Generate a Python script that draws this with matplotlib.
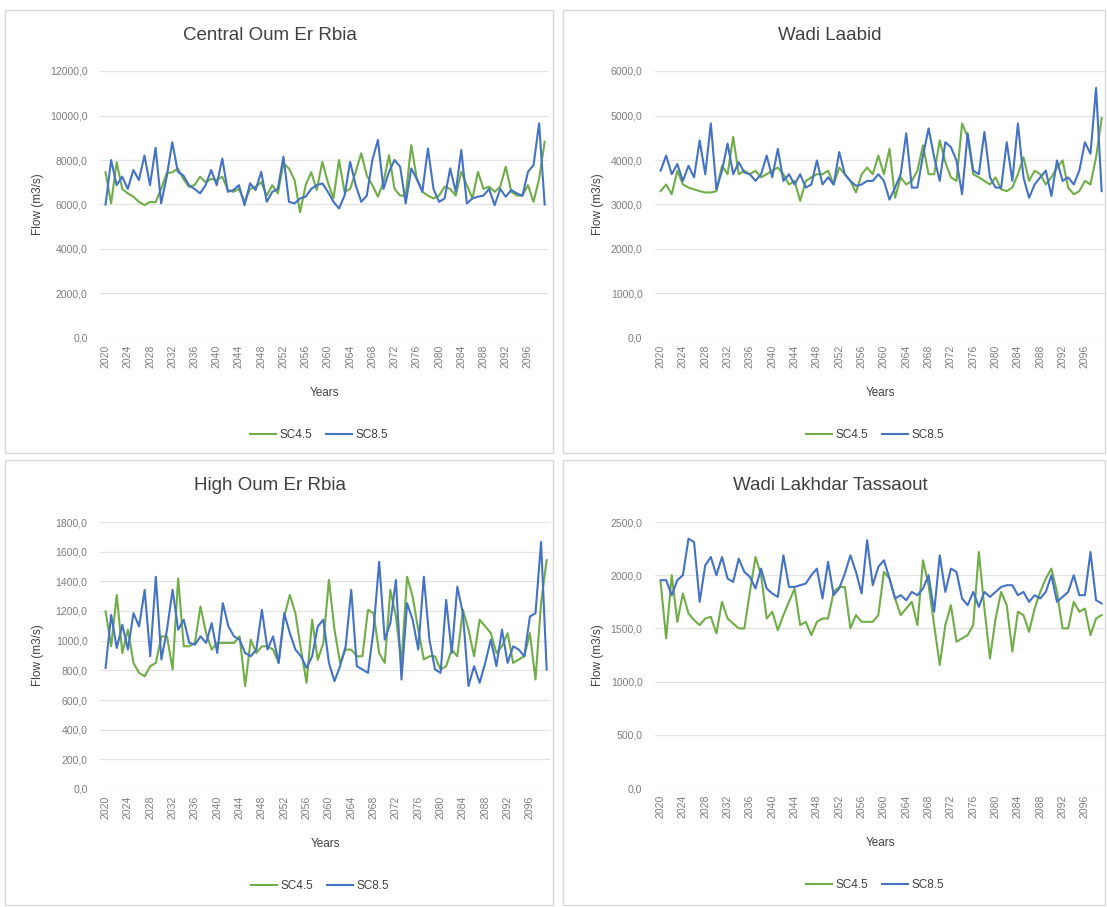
import numpy as np
import matplotlib as mpl
mpl.use('Agg')
import matplotlib.pyplot as plt
from matplotlib.patches import Rectangle
from matplotlib.ticker import FuncFormatter

plt.rcParams['font.family'] = ['Liberation Sans', 'DejaVu Sans']

years = np.arange(2020, 2100)
year_ticks = list(range(2020, 2097, 4))

central_sc45 = [7450, 6050, 7900, 6700, 6500, 6350, 6120, 5970, 6120, 6100,
                6700, 7400, 7450, 7620, 7150, 6800, 6870, 7250, 7000, 7150,
                7100, 7250, 6650, 6570, 6700, 6120, 6700, 6800, 7000, 6400,
                6870, 6500, 7850, 7620, 7100, 5650, 6870, 7450, 6650, 7920,
                7000, 6270, 8000, 6570, 6700, 7470, 8300, 7300, 6870, 6350,
                7000, 8220, 6700, 6400, 6400, 8670, 7150, 6570, 6400, 6270,
                6400, 6800, 6700, 6400, 7470, 6870, 6270, 7470, 6700, 6800,
                6570, 6800, 7700, 6570, 6400, 6400, 6870, 6120, 7150, 8820]
central_sc85 = [6000, 8000, 6870, 7250, 6700, 7550, 7100, 8200, 6870, 8550,
                6050, 7250, 8800, 7470, 7300, 6870, 6700, 6500, 6870, 7550,
                6870, 8070, 6570, 6650, 6870, 5970, 6950, 6650, 7470, 6120,
                6570, 6700, 8150, 6120, 6050, 6270, 6350, 6700, 6870, 6950,
                6570, 6120, 5820, 6400, 7920, 6870, 6120, 6400, 8000, 8900,
                6700, 7470, 8000, 7700, 6050, 7620, 7150, 6570, 8520, 6700,
                6120, 6270, 7620, 6570, 8450, 6050, 6270, 6350, 6400, 6700,
                5970, 6700, 6350, 6650, 6500, 6400, 7470, 7770, 9650, 6000]

laabid_sc45 = [3300, 3450, 3230, 3760, 3450, 3380, 3340, 3300, 3270, 3270,
               3300, 3870, 3680, 4520, 3680, 3760, 3680, 3760, 3610, 3680,
               3760, 3830, 3680, 3450, 3530, 3080, 3530, 3610, 3680, 3680,
               3760, 3450, 3830, 3680, 3530, 3270, 3680, 3830, 3680, 4100,
               3680, 4250, 3150, 3610, 3450, 3530, 3760, 4330, 3680, 3680,
               4440, 3950, 3610, 3530, 4820, 4520, 3680, 3610, 3530, 3450,
               3610, 3340, 3300, 3380, 3680, 4060, 3530, 3760, 3680, 3450,
               3610, 3830, 3990, 3380, 3230, 3300, 3530, 3450, 4060, 4940]
laabid_sc85 = [3760, 4100, 3680, 3910, 3530, 3870, 3610, 4440, 3680, 4820,
               3340, 3760, 4370, 3680, 3950, 3720, 3680, 3530, 3680, 4100,
               3610, 4250, 3530, 3680, 3450, 3680, 3380, 3450, 3990, 3450,
               3610, 3450, 4180, 3680, 3530, 3420, 3450, 3530, 3530, 3680,
               3530, 3110, 3380, 3680, 4600, 3380, 3380, 4100, 4710, 4060,
               3530, 4400, 4290, 3990, 3230, 4600, 3760, 3680, 4630, 3610,
               3380, 3380, 4400, 3530, 4820, 3610, 3150, 3450, 3610, 3760,
               3190, 3990, 3530, 3610, 3450, 3760, 4400, 4140, 5620, 3300]

high_sc45 = [1197, 962, 1308, 917, 1074, 850, 783, 760, 828, 850,
             1029, 1029, 806, 1420, 962, 962, 985, 1230, 1051, 940,
             985, 985, 985, 985, 1029, 694, 1007, 917, 962, 962,
             940, 850, 1163, 1308, 1185, 940, 716, 1141, 870, 985,
             1409, 1074, 850, 940, 940, 895, 895, 1208, 1185, 917,
             850, 1342, 1163, 850, 1431, 1297, 1074, 873, 895, 895,
             806, 828, 940, 895, 1208, 1074, 895, 1141, 1096, 1051,
             917, 962, 1051, 850, 873, 895, 1051, 738, 1253, 1543]
high_sc85 = [817, 1174, 951, 1107, 940, 1185, 1096, 1342, 895, 1431,
             873, 1074, 1342, 1074, 1141, 985, 973, 1029, 985, 1118,
             917, 1253, 1096, 1029, 1007, 917, 895, 940, 1208, 940,
             1029, 850, 1185, 1051, 940, 895, 817, 895, 1096, 1141,
             850, 727, 828, 962, 1342, 828, 806, 783, 1074, 1532,
             1007, 1118, 1409, 738, 1253, 1141, 940, 1431, 1007, 806,
             783, 1275, 917, 1364, 1185, 694, 828, 716, 850, 1007,
             828, 1074, 850, 962, 940, 895, 1163, 1185, 1666, 806]

tassaout_sc45 = [1937, 1406, 2000, 1562, 1828, 1640, 1578, 1531, 1593, 1609,
                 1453, 1750, 1593, 1546, 1500, 1500, 1843, 2171, 2000, 1593,
                 1656, 1484, 1625, 1750, 1875, 1531, 1562, 1437, 1562, 1593,
                 1593, 1843, 1890, 1890, 1500, 1625, 1562, 1562, 1562, 1625,
                 2031, 1968, 1781, 1625, 1687, 1750, 1531, 2140, 1906, 1531,
                 1156, 1531, 1718, 1375, 1406, 1437, 1531, 2218, 1687, 1218,
                 1593, 1843, 1718, 1281, 1656, 1625, 1468, 1687, 1843, 1968,
                 2062, 1843, 1500, 1500, 1750, 1656, 1687, 1437, 1593, 1625]
tassaout_sc85 = [1953, 1953, 1812, 1953, 2000, 2343, 2312, 1750, 2093, 2171,
                 2000, 2171, 1968, 1937, 2156, 2031, 1984, 1875, 2062, 1875,
                 1828, 1796, 2187, 1890, 1890, 1906, 1921, 2000, 2062, 1781,
                 2125, 1812, 1875, 2015, 2187, 2031, 1828, 2328, 1906, 2078,
                 2140, 1968, 1781, 1812, 1765, 1843, 1812, 1875, 2000, 1656,
                 2187, 1843, 2062, 2031, 1781, 1718, 1843, 1703, 1843, 1796,
                 1843, 1890, 1906, 1906, 1812, 1843, 1750, 1812, 1781, 1843,
                 2000, 1750, 1796, 1843, 2000, 1812, 1812, 2218, 1765, 1734]

GREEN = '#70ad47'
BLUE = '#4472c4'
W, H = 1107, 907

fig = plt.figure(figsize=(W / 100, H / 100), dpi=100)

def fx(px):
    return px / W

def fy(py):
    return 1 - py / H

def comma(v, pos):
    return '{:.1f}'.format(v).replace('.', ',')

# panel frames
for x0, y0, x1, y1 in [(5, 10, 553, 453), (563, 10, 1105, 453),
                       (5, 460, 553, 905), (563, 460, 1105, 905)]:
    fig.add_artist(Rectangle((fx(x0), fy(y1)), fx(x1) - fx(x0), fy(y0) - fy(y1),
                             transform=fig.transFigure, fill=False,
                             edgecolor='#d9d9d9', lw=1))

# title, series, ymax, step, plot box (l, t, r, b), ylabel x, title x
panels = [
    ('Central Oum Er Rbia', central_sc45, central_sc85, 12000, 2000,
     (100, 71, 548, 338), 38, 270),
    ('Wadi Laabid', laabid_sc45, laabid_sc85, 6000, 1000,
     (655, 71, 1105, 338), 598, 830),
    ('High Oum Er Rbia', high_sc45, high_sc85, 1800, 200,
     (100, 522, 550, 789), 38, 270),
    ('Wadi Lakhdar Tassaout', tassaout_sc45, tassaout_sc85, 2500, 500,
     (655, 522, 1105, 788), 598, 830),
]

for title, s45, s85, ymax, step, (l, t, r, b), ylx, tx in panels:
    ax = fig.add_axes([fx(l), fy(b), fx(r) - fx(l), fy(t) - fy(b)])
    l45, = ax.plot(years, s45, color=GREEN, lw=1.5, label='SC4.5')
    l85, = ax.plot(years, s85, color=BLUE, lw=1.5, label='SC8.5')
    ax.set_xlim(2019.0, 2099.6)
    ax.set_ylim(0, ymax)
    ax.set_yticks(np.arange(0, ymax + step / 2, step))
    ax.yaxis.set_major_formatter(FuncFormatter(comma))
    ax.set_xticks(year_ticks)
    ax.set_xticklabels([str(y) for y in year_ticks], rotation=90)
    ax.tick_params(length=0, labelsize=7.6, labelcolor='#7f7f7f')
    ax.tick_params(axis='y', pad=9)
    ax.tick_params(axis='x', pad=5)
    ax.grid(axis='y', color='#e3e3e3', lw=0.9)
    ax.set_axisbelow(True)
    for sp in ax.spines.values():
        sp.set_visible(False)

    cx = (l + r) / 2
    fig.text(fx(tx), fy(t - 36), title, ha='center', va='center',
             fontsize=13.5, color='#404040')
    fig.text(fx(ylx), fy((t + b) / 2), 'Flow (m3/s)', rotation=90,
             ha='center', va='center', fontsize=8.5, color='#404040')
    fig.text(fx(cx), fy(b + 55), 'Years', ha='center', va='center',
             fontsize=8.5, color='#404040')
    ax.legend(handles=[l45, l85], loc='center', ncol=2, frameon=False,
              bbox_to_anchor=(fx(cx - 5), fy(b + 97)),
              bbox_transform=fig.transFigure, fontsize=8.5,
              handlelength=2.2, columnspacing=1.2, handletextpad=0.3,
              labelcolor='#404040')

plt.savefig('out.png', dpi=100)
